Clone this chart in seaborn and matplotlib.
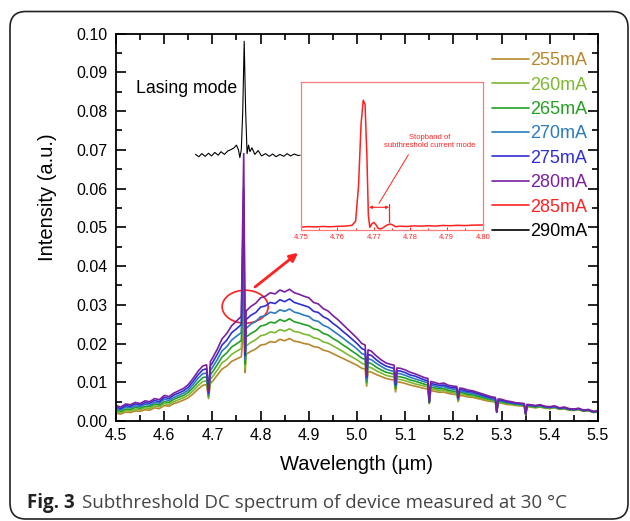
import matplotlib
matplotlib.use("Agg")
import matplotlib.pyplot as plt
import pandas as pd
import seaborn as sns
from matplotlib.lines import Line2D
from matplotlib.patches import Ellipse, FancyBboxPatch
from matplotlib.ticker import MultipleLocator, FormatStrFormatter

# ---------------- data ----------------
wavelength = [4.50, 4.51, 4.52, 4.53, 4.54, 4.55, 4.56, 4.57, 4.58, 4.59,
              4.60, 4.61, 4.62, 4.63, 4.64, 4.65, 4.66, 4.67, 4.68, 4.688, 4.692, 4.696,
              4.70, 4.71, 4.72, 4.73, 4.74, 4.75, 4.76, 4.765, 4.768, 4.77,
              4.78, 4.79, 4.80, 4.81, 4.82, 4.83, 4.84, 4.85, 4.86, 4.87,
              4.88, 4.89, 4.90, 4.91, 4.92, 4.93, 4.94, 4.95, 4.96, 4.97,
              4.98, 4.99, 5.00, 5.01, 5.017, 5.02, 5.023, 5.03, 5.04, 5.05, 5.06, 5.07,
              5.077, 5.08, 5.083, 5.09, 5.10, 5.11, 5.12, 5.13, 5.14, 5.147, 5.15, 5.153, 5.16, 5.17,
              5.18, 5.19, 5.20, 5.207, 5.21, 5.213, 5.22, 5.23, 5.24, 5.25, 5.26, 5.27,
              5.28, 5.287, 5.29, 5.293, 5.30, 5.31, 5.32, 5.33, 5.34, 5.347, 5.35, 5.353, 5.36, 5.37,
              5.38, 5.39, 5.40, 5.41, 5.42, 5.43, 5.44, 5.45, 5.46, 5.47,
              5.48, 5.49, 5.50]

i255 = [.0020, .0018, .0023, .0022, .0026, .0025, .0029, .0028, .0034, .0032,
        .0040, .0038, .0045, .0049, .0054, .0060, .0070, .0082, .0092, .0094, .0058, .0097,
        .0102, .0118, .0134, .0142, .0154, .0160, .0166, .0240, .0125, .0172,
        .0180, .0186, .0196, .0198, .0205, .0203, .0211, .0207, .0213, .0206,
        .0204, .0200, .0198, .0192, .0190, .0183, .0180, .0174, .0168, .0162,
        .0156, .0150, .0144, .0136, .0134, .0090, .0128, .0126, .0120, .0115, .0110, .0107,
        .0106, .0075, .0101, .0100, .0097, .0093, .0090, .0087, .0084, .0082, .0045, .0078, .0077, .0074,
        .0075, .0071, .0069, .0068, .0050, .0066, .0065, .0062, .0061, .0058, .0055, .0052,
        .0050, .0049, .0022, .0047, .0046, .0043, .0042, .0040, .0039, .0038, .0016, .0037, .0036, .0034,
        .0036, .0033, .0032, .0034, .0030, .0031, .0028, .0027, .0029, .0025,
        .0026, .0022, .0023]

i260 = [.0024, .0022, .0027, .0026, .0030, .0029, .0034, .0032, .0039, .0037,
        .0045, .0043, .0050, .0055, .0060, .0067, .0078, .0091, .0102, .0104, .0062, .0108,
        .0114, .0131, .0150, .0159, .0172, .0180, .0187, .0300, .0136, .0194,
        .0203, .0210, .0220, .0223, .0230, .0228, .0236, .0232, .0238, .0231,
        .0229, .0224, .0222, .0215, .0212, .0204, .0201, .0194, .0187, .0180,
        .0172, .0165, .0158, .0149, .0146, .0096, .0140, .0137, .0130, .0124, .0118, .0115,
        .0114, .0080, .0108, .0107, .0104, .0100, .0096, .0093, .0090, .0088, .0046, .0083, .0082, .0078,
        .0080, .0075, .0073, .0072, .0052, .0070, .0069, .0066, .0064, .0061, .0058, .0055,
        .0052, .0051, .0022, .0049, .0048, .0045, .0044, .0041, .0040, .0039, .0016, .0038, .0037, .0035,
        .0037, .0034, .0033, .0035, .0031, .0032, .0029, .0028, .0030, .0026,
        .0027, .0023, .0024]

i265 = [.0028, .0025, .0031, .0030, .0035, .0033, .0038, .0037, .0044, .0041,
        .0050, .0048, .0056, .0061, .0066, .0074, .0086, .0100, .0112, .0114, .0065, .0120,
        .0126, .0145, .0165, .0176, .0191, .0199, .0208, .0370, .0147, .0217,
        .0226, .0233, .0245, .0248, .0255, .0253, .0262, .0257, .0264, .0256,
        .0253, .0249, .0246, .0238, .0235, .0226, .0222, .0213, .0206, .0197,
        .0189, .0180, .0172, .0162, .0159, .0101, .0151, .0148, .0139, .0132, .0126, .0123,
        .0121, .0084, .0115, .0114, .0111, .0106, .0103, .0099, .0095, .0093, .0047, .0088, .0086, .0083,
        .0084, .0079, .0077, .0076, .0055, .0074, .0073, .0069, .0068, .0064, .0061, .0058,
        .0055, .0054, .0023, .0051, .0050, .0047, .0045, .0043, .0042, .0041, .0017, .0039, .0038, .0036,
        .0038, .0035, .0034, .0036, .0032, .0033, .0030, .0029, .0031, .0026,
        .0028, .0023, .0024]

i270 = [.0032, .0029, .0036, .0034, .0039, .0037, .0043, .0041, .0048, .0046,
        .0056, .0053, .0061, .0066, .0072, .0080, .0094, .0110, .0122, .0124, .0069, .0131,
        .0138, .0158, .0181, .0192, .0209, .0219, .0228, .0450, .0158, .0239,
        .0250, .0257, .0269, .0272, .0281, .0278, .0287, .0283, .0289, .0281,
        .0278, .0273, .0270, .0260, .0257, .0247, .0242, .0233, .0224, .0215,
        .0205, .0196, .0186, .0174, .0171, .0107, .0161, .0158, .0149, .0141, .0134, .0130,
        .0128, .0089, .0123, .0122, .0118, .0113, .0109, .0105, .0101, .0099, .0048, .0093, .0091, .0087,
        .0089, .0084, .0082, .0081, .0057, .0077, .0076, .0073, .0071, .0068, .0064, .0060,
        .0057, .0056, .0023, .0053, .0052, .0048, .0047, .0044, .0043, .0042, .0017, .0041, .0040, .0038,
        .0040, .0036, .0035, .0037, .0032, .0034, .0030, .0029, .0031, .0027,
        .0028, .0024, .0025]

i275 = [.0036, .0032, .0040, .0038, .0044, .0041, .0047, .0046, .0053, .0050,
        .0061, .0058, .0067, .0072, .0078, .0087, .0102, .0119, .0132, .0135, .0072, .0143,
        .0150, .0172, .0196, .0209, .0228, .0238, .0249, .0600, .0169, .0262,
        .0273, .0280, .0294, .0297, .0306, .0303, .0313, .0308, .0315, .0306,
        .0302, .0298, .0294, .0283, .0280, .0269, .0263, .0252, .0243, .0232,
        .0222, .0211, .0200, .0187, .0183, .0112, .0172, .0169, .0158, .0149, .0142, .0138,
        .0136, .0093, .0130, .0129, .0125, .0119, .0116, .0111, .0106, .0104, .0049, .0097, .0095, .0092,
        .0093, .0088, .0086, .0085, .0060, .0081, .0080, .0076, .0075, .0071, .0067, .0063,
        .0060, .0059, .0024, .0055, .0054, .0050, .0048, .0046, .0045, .0044, .0018, .0042, .0041, .0039,
        .0041, .0037, .0036, .0038, .0033, .0035, .0031, .0030, .0032, .0027,
        .0029, .0024, .0025]

i280 = [.0040, .0036, .0044, .0042, .0048, .0045, .0052, .0050, .0058, .0055,
        .0066, .0063, .0072, .0078, .0084, .0094, .0110, .0128, .0142, .0145, .0076, .0154,
        .0162, .0185, .0212, .0226, .0246, .0258, .0270, .0690, .0180, .0284,
        .0296, .0304, .0318, .0322, .0331, .0328, .0338, .0333, .0340, .0331,
        .0327, .0322, .0318, .0306, .0302, .0290, .0284, .0272, .0262, .0250,
        .0238, .0226, .0214, .0200, .0196, .0118, .0184, .0180, .0168, .0158, .0150, .0146,
        .0144, .0098, .0137, .0136, .0132, .0126, .0122, .0117, .0112, .0110, .0050, .0102, .0100, .0096,
        .0098, .0092, .0090, .0089, .0062, .0085, .0084, .0080, .0078, .0074, .0070, .0066,
        .0062, .0061, .0024, .0057, .0056, .0052, .0050, .0047, .0046, .0045, .0018, .0043, .0042, .0040,
        .0042, .0038, .0037, .0039, .0034, .0036, .0032, .0031, .0033, .0028,
        .0030, .0025, .0026]

# 290 mA lasing-mode trace (shown offset above the spectra)
lasing_wl = [4.665, 4.672, 4.678, 4.685, 4.692, 4.698, 4.705, 4.712, 4.718, 4.725,
             4.732, 4.738, 4.745, 4.750, 4.754, 4.757, 4.760, 4.763, 4.766, 4.769,
             4.772, 4.775, 4.778, 4.782, 4.788, 4.795, 4.802, 4.810, 4.818, 4.825,
             4.832, 4.840, 4.848, 4.855, 4.862, 4.870, 4.878, 4.882]
lasing_int = [0.0688, 0.0682, 0.0690, 0.0683, 0.0691, 0.0684, 0.0693, 0.0686, 0.0695, 0.0688,
              0.0697, 0.0700, 0.0705, 0.0712, 0.0700, 0.0680, 0.0700, 0.0800, 0.0980, 0.0800,
              0.0690, 0.0712, 0.0695, 0.0705, 0.0688, 0.0698, 0.0684, 0.0690, 0.0683, 0.0689,
              0.0682, 0.0688, 0.0683, 0.0690, 0.0684, 0.0689, 0.0685, 0.0686]

# inset (285 mA, zoom 4.75-4.80 µm, arbitrary units)
inset_wl = [4.750, 4.752, 4.754, 4.756, 4.758, 4.760, 4.762, 4.764, 4.765, 4.7658,
            4.7665, 4.7671, 4.7676, 4.7681, 4.7685, 4.7689, 4.7694, 4.7700, 4.7706, 4.7712,
            4.7718, 4.7725, 4.7735, 4.7745, 4.7752, 4.7760, 4.777, 4.779, 4.781, 4.783,
            4.785, 4.787, 4.789, 4.791, 4.793, 4.795, 4.797, 4.800]
inset_int = [0.020, 0.023, 0.021, 0.024, 0.022, 0.025, 0.026, 0.032, 0.060, 0.300,
             0.720, 0.880, 0.850, 0.500, 0.100, 0.018, 0.040, 0.052, 0.035, 0.012,
             0.007, 0.015, 0.032, 0.041, 0.034, 0.022, 0.026, 0.024, 0.028, 0.026,
             0.029, 0.027, 0.031, 0.029, 0.032, 0.030, 0.033, 0.034]

labels = ["255mA", "260mA", "265mA", "270mA", "275mA", "280mA", "285mA", "290mA"]
colors = ["#B8862B", "#7CB830", "#22A022", "#2A7BBF", "#2E2ED6", "#7A1FA0", "#FF2222", "#000000"]
spectra = [i255, i260, i265, i270, i275, i280]

df = pd.concat(
    [pd.DataFrame({"wl": wavelength, "val": s, "series": lab})
     for s, lab in zip(spectra, labels[:6])],
    ignore_index=True)

# ---------------- style ----------------
sns.set_theme(style="ticks")
plt.rcParams["font.family"] = ["Liberation Sans", "DejaVu Sans"]
plt.rcParams["axes.linewidth"] = 1.3

fig = plt.figure(figsize=(6.3, 5.21), dpi=100)
ax = fig.add_axes([0.1841, 0.1919, 0.7651, 0.7438])

sns.lineplot(data=df, x="wl", y="val", hue="series", hue_order=labels[:6],
             palette=dict(zip(labels, colors)), estimator=None, sort=False,
             linewidth=1.2, legend=False, ax=ax)
sns.lineplot(x=lasing_wl, y=lasing_int, color=colors[7], linewidth=0.8,
             estimator=None, sort=False, ax=ax)

ax.set_xlim(4.5, 5.5)
ax.set_ylim(0.0, 0.10)
ax.xaxis.set_major_locator(MultipleLocator(0.1))
ax.xaxis.set_minor_locator(MultipleLocator(0.05))
ax.yaxis.set_major_locator(MultipleLocator(0.01))
ax.yaxis.set_minor_locator(MultipleLocator(0.005))
ax.xaxis.set_major_formatter(FormatStrFormatter("%.1f"))
ax.yaxis.set_major_formatter(FormatStrFormatter("%.2f"))
ax.tick_params(which="both", direction="in", top=True, right=True, width=1.2, color="black")
ax.tick_params(which="major", length=7, labelsize=11.5, labelcolor="black")
ax.tick_params(which="minor", length=4)
ax.tick_params(axis="x", pad=5)
ax.tick_params(axis="y", pad=6)
for sp in ax.spines.values():
    sp.set_color("black")
    sp.set_linewidth(1.3)

ax.set_xlabel("Wavelength (µm)", fontsize=14.5, color="black")
ax.set_ylabel("Intensity (a.u.)", fontsize=14.5, color="black")
ax.xaxis.set_label_coords(0.5, -0.088)
ax.yaxis.set_label_coords(-0.122, 0.578)

ax.text(4.5415, 0.0857, "Lasing mode", fontsize=12.7, va="center", ha="left", color="black")
ax.add_patch(Ellipse((4.768, 0.0295), 0.0955, 0.0085, fill=False, ec="#FF2020", lw=1.2))
ax.annotate("", xy=(4.8778, 0.0434), xytext=(4.7886, 0.0346),
            arrowprops=dict(arrowstyle="-|>", color="#FF2020", lw=2.0,
                            mutation_scale=12, shrinkA=0, shrinkB=0))

handles = [Line2D([], [], color=c, lw=1.2) for c in colors]
leg = ax.legend(handles, labels, loc="upper right", bbox_to_anchor=(0.977, 0.952),
                frameon=False, fontsize=13, handlelength=2.05, handletextpad=0.05,
                labelspacing=0.41, borderaxespad=0, borderpad=0)
for t, c in zip(leg.get_texts(), colors):
    t.set_color(c)

# ---------------- inset ----------------
red = "#FF2020"
axins = fig.add_axes([0.4778, 0.5585, 0.2889, 0.2832])
axins.set_facecolor("white")
sns.lineplot(x=inset_wl, y=inset_int, color=red, linewidth=1.1,
             estimator=None, sort=False, ax=axins)
axins.set_xlim(4.75, 4.80)
axins.set_ylim(0, 1)
axins.set_yticks([])
axins.xaxis.set_major_locator(MultipleLocator(0.01))
axins.xaxis.set_minor_locator(MultipleLocator(0.005))
axins.xaxis.set_major_formatter(FormatStrFormatter("%.2f"))
axins.tick_params(axis="x", which="both", direction="in", color=red, labelcolor=red,
                  labelsize=5.5, pad=3, width=0.7)
axins.tick_params(axis="x", which="major", length=2.5)
axins.tick_params(axis="x", which="minor", length=1.5)
for sp in axins.spines.values():
    sp.set_color("#FF7A7A")
    sp.set_linewidth(0.9)
axins.set_xlabel("")
axins.set_ylabel("")
axins.text(4.7854, 0.60, "Stopband of\nsubthreshold current mode", color=red,
           fontsize=5.5, ha="center", va="center", linespacing=1.2)
axins.annotate("", xy=(4.7714, 0.18), xytext=(4.7795, 0.51),
               arrowprops=dict(arrowstyle="-", color=red, lw=0.7, shrinkA=0, shrinkB=0))
axins.annotate("", xy=(4.7687, 0.154), xytext=(4.7742, 0.154),
               arrowprops=dict(arrowstyle="<|-|>", color=red, lw=0.8, mutation_scale=4,
                               shrinkA=0, shrinkB=0))
axins.plot([4.7742, 4.7742], [0.054, 0.176], color=red, lw=0.9)

# ---------------- caption and frame ----------------
fig.add_artist(FancyBboxPatch((0.10, 0.02), 6.18, 5.075,
                              boxstyle="round,pad=0,rounding_size=0.16",
                              transform=fig.dpi_scale_trans, fill=False,
                              ec="#222222", lw=1.2))
t1 = fig.text(27 / 630, 1 - 503 / 521, "Fig. 3", fontsize=13.5, fontweight="bold",
              family=["Open Sans", "DejaVu Sans"], color="#222222", va="center", ha="left")
fig.canvas.draw()
bb = t1.get_window_extent(renderer=fig.canvas.get_renderer())
fig.text((bb.x1 + 7) / 630, 1 - 503 / 521,
         "Subthreshold DC spectrum of device measured at 30 °C", fontsize=13.5,
         family=["Open Sans", "DejaVu Sans"], color="#444444", va="center", ha="left")

fig.savefig("out.png", dpi=100)
